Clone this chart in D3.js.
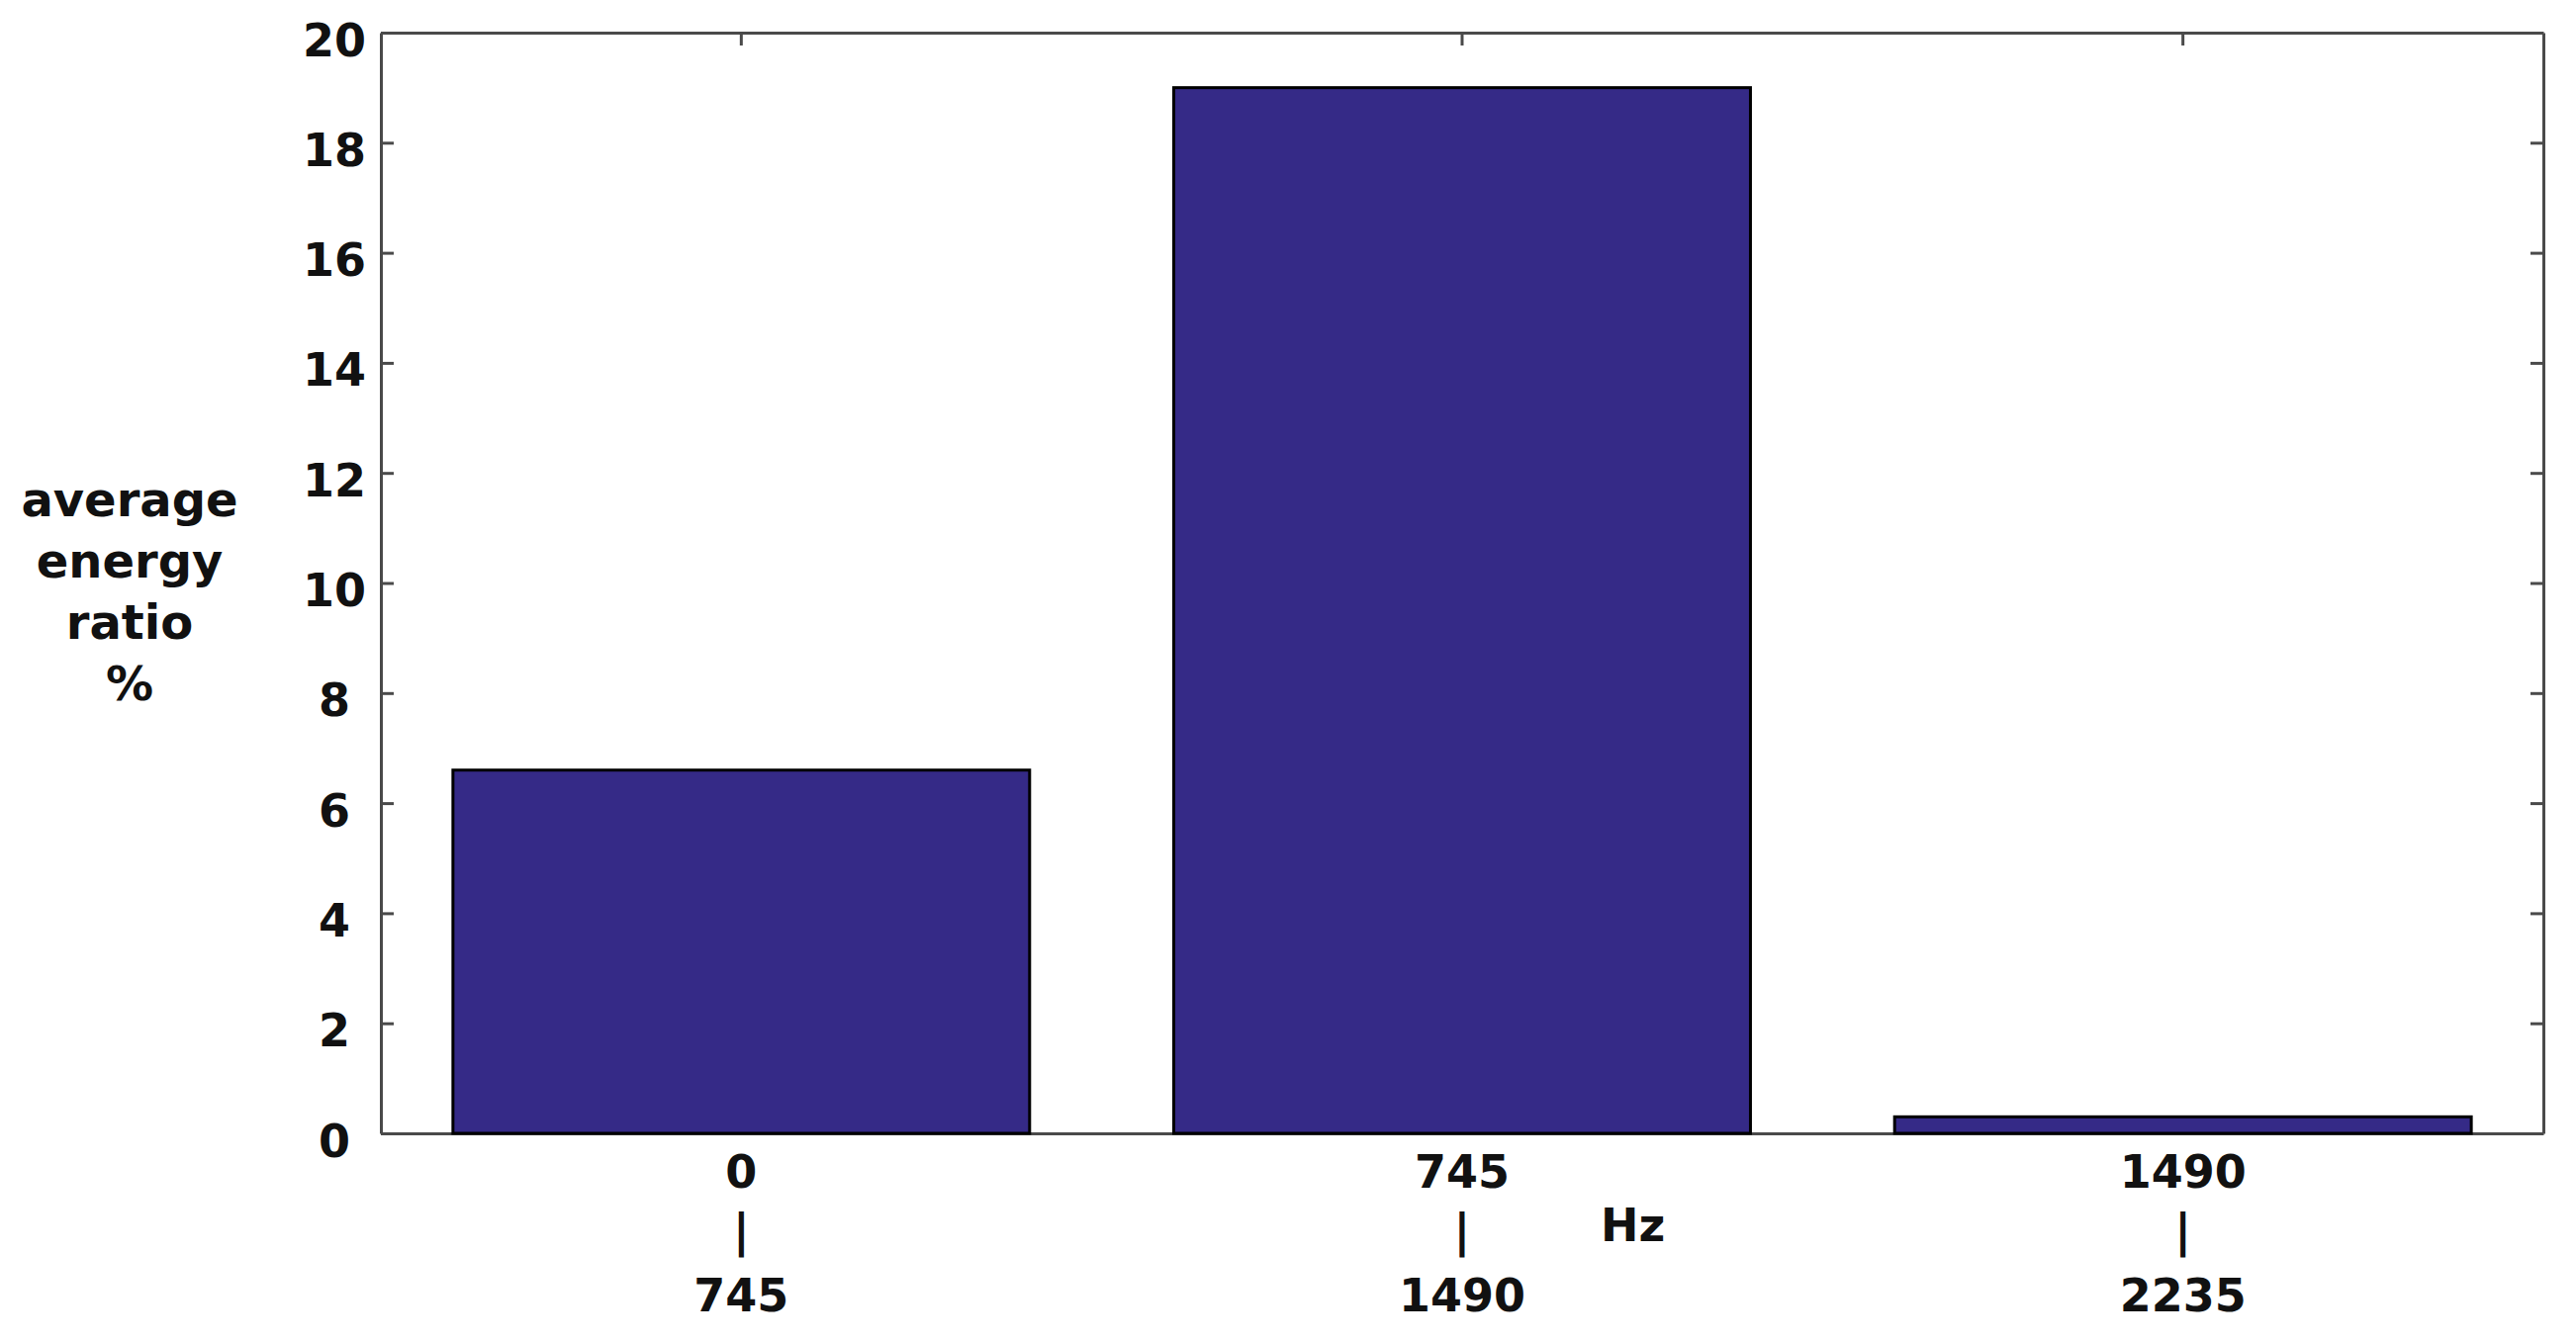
<!DOCTYPE html>
<html>
<head>
<meta charset="utf-8">
<script src="https://cdn.jsdelivr.net/npm/d3@7"></script>
<style>
  body { margin: 0; background: #fff; }
  .axis path, .axis line { stroke: #4a4a4a; stroke-width: 3; }
  .axis text { font-family: "DejaVu Sans", sans-serif; font-weight: bold; font-size: 46px; fill: #111; }
</style>
</head>
<body>
<svg id="MyGraph" width="2604" height="1357"></svg>
<script>
// frequency bins (Hz)
var binLow = [0, 745, 1490];
var binHigh = [745, 1490, 2235];
// average energy ratio per bin (%)
var energyRatio = [6.6, 19.0, 0.3];
var yTicks = [0, 2, 4, 6, 8, 10, 12, 14, 16, 18, 20];
var yLabelLines = ["average", "energy", "ratio", "%"];
var xUnit = "Hz";

var svg = d3.select("#MyGraph");
var margin = {top: 33, right: 33, bottom: 211, left: 385},
    width = 2604 - margin.left - margin.right,
    height = 1357 - margin.top - margin.bottom,
    g = svg.append("g").attr("transform", "translate(" + margin.left + "," + margin.top + ")");

var cats = binLow.map(function(d, i) { return i; });

var x = d3.scaleBand()
    .domain(cats)
    .range([0, width])
    .paddingInner(0.2)
    .paddingOuter(0.1);

var y = d3.scaleLinear()
    .domain([0, 20])
    .range([height, 0]);

// bottom axis first so its inner ticks sit under the bars
var xAxis = g.append("g")
    .attr("class", "axis")
    .attr("transform", "translate(0," + height + ")")
    .call(d3.axisBottom(x).tickSizeInner(-13).tickSizeOuter(0).tickPadding(0));

xAxis.selectAll(".tick text")
    .attr("y", 0)
    .attr("dy", null)
    .text(null)
    .each(function(d) {
      var t = d3.select(this);
      t.append("tspan").attr("x", 0).attr("y", 55).text(binLow[d]);
      t.append("tspan").attr("x", 0).attr("y", 114).text("|");
      t.append("tspan").attr("x", 0).attr("y", 180).text(binHigh[d]);
    });

g.append("g")
    .attr("class", "axis")
    .call(d3.axisTop(x).tickSizeInner(-13).tickSizeOuter(0).tickFormat(""));

g.append("g")
    .attr("class", "axis")
    .attr("transform", "translate(" + width + ",0)")
    .call(d3.axisRight(y).tickValues(yTicks).tickSizeInner(-13).tickSizeOuter(0).tickFormat(""));

var yAxis = g.append("g")
    .attr("class", "axis")
    .call(d3.axisLeft(y).tickValues(yTicks).tickSizeInner(-13).tickSizeOuter(0));

yAxis.selectAll(".tick text")
    .attr("x", -47)
    .attr("dy", "0.5em")
    .attr("text-anchor", "middle");

g.append("g")
    .selectAll("rect")
    .data(energyRatio)
    .enter().append("rect")
    .attr("x", function(d, i) { return x(i); })
    .attr("y", function(d) { return y(d); })
    .attr("width", x.bandwidth())
    .attr("height", function(d) { return y(0) - y(d); })
    .attr("fill", "#352a87")
    .attr("stroke", "#000")
    .attr("stroke-width", 3);

// unit label just right of the middle x label
g.append("text")
    .attr("x", x(1) + x.bandwidth() / 2 + 140)
    .attr("y", height + 109)
    .style("font", "bold 46px 'DejaVu Sans', sans-serif")
    .attr("fill", "#111")
    .text(xUnit);

svg.append("g")
    .selectAll("text")
    .data(yLabelLines)
    .enter().append("text")
    .attr("x", 131)
    .attr("y", function(d, i) { return 522 + i * 62; })
    .attr("text-anchor", "middle")
    .style("font", "bold 48px 'DejaVu Sans', sans-serif")
    .attr("fill", "#111")
    .text(function(d) { return d; });
</script>
</body>
</html>
